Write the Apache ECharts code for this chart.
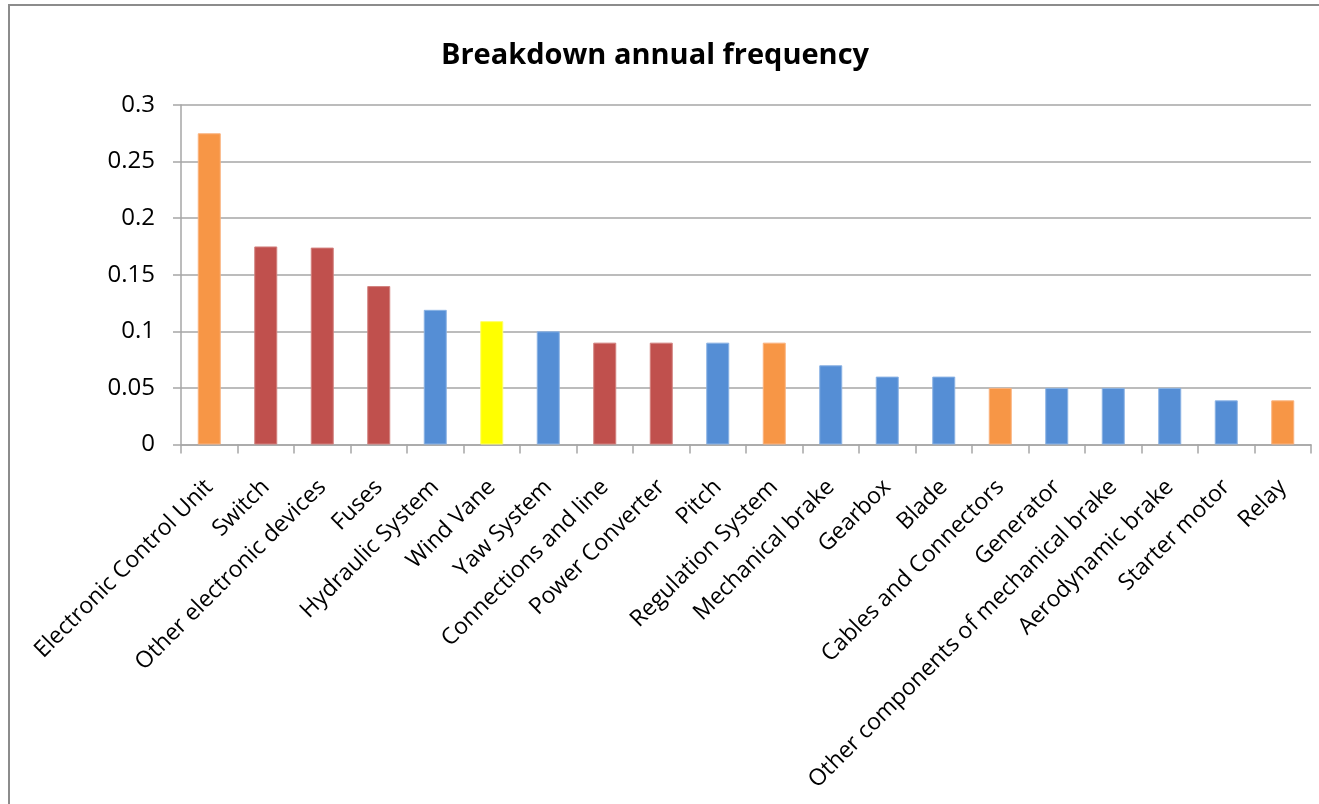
<!DOCTYPE html>
<html>
<head>
<meta charset="utf-8">
<script src="https://cdn.jsdelivr.net/npm/echarts@6/dist/echarts.min.js"></script>
<style>
  html, body { margin: 0; padding: 0; background: #ffffff; }
  #chart { width: 1319px; height: 804px; }
</style>
</head>
<body>
<div id="chart"></div>
<script>
// Components and their annual breakdown frequency
const categories = [
  'Electronic Control Unit', 'Switch', 'Other electronic devices', 'Fuses',
  'Hydraulic System', 'Wind Vane', 'Yaw System', 'Connections and line',
  'Power Converter', 'Pitch', 'Regulation System', 'Mechanical brake',
  'Gearbox', 'Blade', 'Cables and Connectors', 'Generator',
  'Other components of mechanical brake', 'Aerodynamic brake', 'Starter motor', 'Relay'
];
const frequencies = [
  0.275, 0.175, 0.174, 0.14,
  0.119, 0.109, 0.1, 0.09,
  0.09, 0.09, 0.09, 0.07,
  0.06, 0.06, 0.05, 0.05,
  0.05, 0.05, 0.039, 0.039
];
// Colour group of each component
const groups = [
  'orange', 'red', 'red', 'red',
  'blue', 'yellow', 'blue', 'red',
  'red', 'blue', 'orange', 'blue',
  'blue', 'blue', 'orange', 'blue',
  'blue', 'blue', 'blue', 'orange'
];
const yTicks = [0, 0.05, 0.1, 0.15, 0.2, 0.25, 0.3];

const palette = {
  orange: '#F79646',
  red: '#C0504D',
  blue: '#558ED5',
  yellow: '#FFFF00'
};
const edge = {
  orange: '#FAB27E',
  red: '#D2807E',
  blue: '#8AB2E4',
  yellow: '#FFFF66'
};

const chart = echarts.init(document.getElementById('chart'));
const fontFam = '"Open Sans", "Noto Sans", sans-serif';

chart.setOption({
  animation: false,
  backgroundColor: '#ffffff',
  title: {
    text: 'Breakdown annual frequency',
    left: 650,
    top: 36,
    textAlign: 'center',
    textStyle: { fontFamily: fontFam, fontSize: 29, fontWeight: 'bold', color: '#000000' }
  },
  graphic: [{
    type: 'rect',
    shape: { x: 9, y: 5, width: 1340, height: 840 },
    style: { fill: 'none', stroke: '#8c8c8c', lineWidth: 2 },
    silent: true
  }],
  grid: { left: 181, right: 8, top: 105, bottom: 359.5, containLabel: false },
  xAxis: {
    type: 'category',
    data: categories,
    axisLine: { lineStyle: { color: '#a6a6a6', width: 1.5 } },
    axisTick: { show: true, length: 9, alignWithLabel: false, lineStyle: { color: '#a6a6a6', width: 1.5 } },
    axisLabel: {
      interval: 0,
      rotate: 45,
      margin: 39,
      color: '#000000',
      fontFamily: fontFam,
      fontSize: 23
    }
  },
  yAxis: {
    type: 'value',
    min: yTicks[0],
    max: yTicks[yTicks.length - 1],
    interval: 0.05,
    axisLine: { show: true, lineStyle: { color: '#a6a6a6', width: 1.5 } },
    axisTick: { show: true, inside: false, length: 8, lineStyle: { color: '#a6a6a6', width: 1.5 } },
    splitLine: { show: true, lineStyle: { color: '#a6a6a6', width: 1.5 } },
    axisLabel: {
      margin: 26,
      color: '#000000',
      fontFamily: fontFam,
      fontSize: 24,
      formatter: v => String(+v.toFixed(2))
    }
  },
  series: [{
    type: 'bar',
    barWidth: 23,
    data: frequencies.map((v, i) => ({
      value: v,
      itemStyle: { color: palette[groups[i]], borderColor: edge[groups[i]], borderWidth: 1 }
    }))
  }]
});
</script>
</body>
</html>
